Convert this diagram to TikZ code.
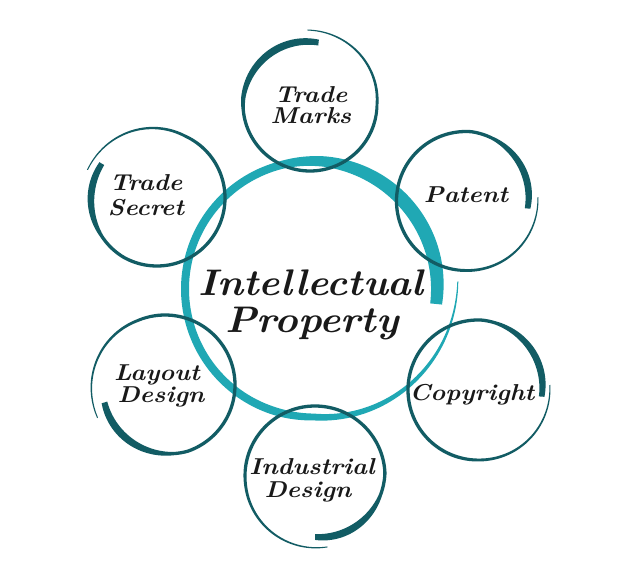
\documentclass[tikz,border=0pt]{standalone}
\usepackage{tikz}
\definecolor{ringteal}{RGB}{32,168,180}
\definecolor{ensodark}{RGB}{18,92,100}
\tikzset{
  declare function={
    ensoR(\t,\ua,\ub,\uc)=\ub+(\ua-\ub)*max(0,1-\t/0.25)+(\uc-\ub)*max(0,(\t-0.75)/0.25);
    ensoW(\t,\ub,\up,\uq)=1+(\ub-1)*min(1,\t/0.3)+\up*sin(140*max(0,\t-\uq)/(1-\uq));
  },
  lbl/.style={font=\fontsize{23}{26}\selectfont\bfseries\itshape, inner sep=0pt, anchor=base, text=black!90},
  ttl/.style={font=\fontsize{37}{42}\selectfont\bfseries\itshape, inner sep=0pt, anchor=base, text=black!90},
}
\newcommand\hw[2][1.1]{\scalebox{#1}[1]{#2}}
% cx cy a0 r0 rbody r1 wbody wpeak tpeak
\newcommand\enso[9]{%
  \fill plot[variable=\t,domain=0:1,samples=180]
    ({#1+(ensoR(\t,#4,#5,#6)+0.5*ensoW(\t,#7,#8,#9))*cos(#3+370*\t)},
     {#2+(ensoR(\t,#4,#5,#6)+0.5*ensoW(\t,#7,#8,#9))*sin(#3+370*\t)})
   -- plot[variable=\t,domain=1:0,samples=180]
    ({#1+(ensoR(\t,#4,#5,#6)-0.5*ensoW(\t,#7,#8,#9))*cos(#3+370*\t)},
     {#2+(ensoR(\t,#4,#5,#6)-0.5*ensoW(\t,#7,#8,#9))*sin(#3+370*\t)})
   -- cycle;
}
\begin{document}
\begin{tikzpicture}[x=1pt,y=-1pt]
\fill[white] (0,0) rectangle (633,570);
\useasboundingbox (0,0) rectangle (633,570);
% central ring
\begin{scope}[color=ringteal]
  \enso{313}{289}{-3}{145}{128}{124}{8}{6}{0.7}
\end{scope}
% surrounding rings
\begin{scope}[color=ensodark]
  \enso{310}{104}{-92}{74}{67}{62}{3.3}{4}{0.72}
  \enso{466}{201}{-3}{72}{69.5}{62}{3.3}{3.5}{0.8}
  \enso{157}{198}{202}{75}{68}{65}{3.3}{3.5}{0.82}
  \enso{165}{385}{154}{75}{70}{63}{3.3}{4}{0.78}
  \enso{478}{390}{-4}{72}{70}{64}{3.3}{3.5}{0.78}
  \enso{315}{476}{80}{72}{70}{61}{3.3}{4}{0.8}
\end{scope}
% texts
\node[ttl] (ip1) at (311,295) {\hw[1.08]{Intellectual}};
\node[ttl] (ip2) at (312,332) {\hw[1.08]{Property}};
\node[lbl] (tm1) at (311,102) {\hw{Trade}};
\node[lbl] (tm2) at (311,123) {\hw{Marks}};
\node[lbl] (pt) at (466,202) {\hw{Patent}};
\node[lbl] (ts1) at (146,190) {\hw{Trade}};
\node[lbl] (ts2) at (146,215) {\hw{Secret}};
\node[lbl] (ld1) at (157,380) {\hw{Layout}};
\node[lbl] (ld2) at (161,402) {\hw{Design}};
\node[lbl] (cr) at (472,400) {\hw{Copyright}};
\node[lbl] (id1) at (312,474) {\hw{Industrial}};
\node[lbl] (id2) at (308,497) {\hw{Design}};
\end{tikzpicture}
\end{document}
